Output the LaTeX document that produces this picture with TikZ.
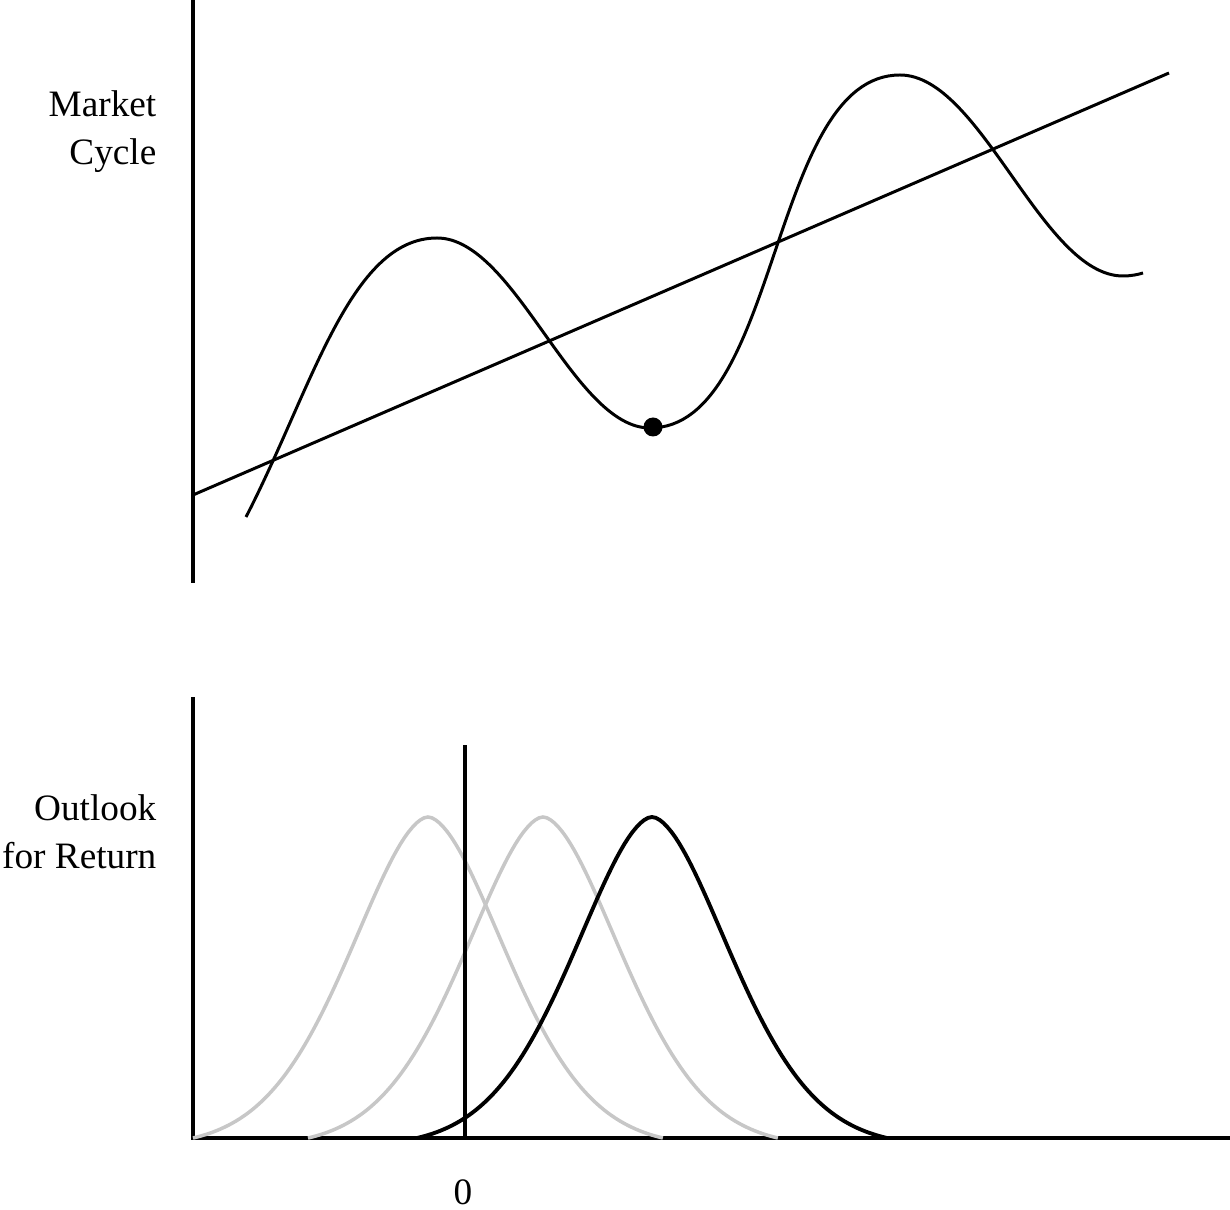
\documentclass[tikz,border=0pt]{standalone}
\usepackage{fontspec}
\setmainfont{Liberation Serif}
\usepackage{tikz}
\usetikzlibrary{calc}

\tikzset{
	axisline/.style={line width=1.1pt},
	cycleline/.style={line width=0.85pt},
	bellgray/.style={line width=1pt, color=black!22},
	bellblack/.style={line width=1.1pt, color=black},
	sidelabel/.style={anchor=east, align=right, font=\fontsize{10.6}{13.7}\selectfont, inner sep=0pt}
}

\begin{document}
\begin{tikzpicture}[x=1cm,y=1cm]
			\useasboundingbox (0,0) rectangle (12.30,12.09);
			
			% upper panel
			\coordinate (topaxisT) at (1.93,12.09);
			\coordinate (topaxisB) at (1.93,6.26);
			\coordinate (trendL) at (1.93,7.14);
			\coordinate (trendR) at (11.69,11.36);
			\coordinate (waveS) at (2.46,6.92);
			\coordinate (peakA) at (4.37,9.71);
			\coordinate (troughA) at (6.50,7.81);
			\coordinate (peakB) at (9.00,11.34);
			\coordinate (troughB) at (11.23,9.33);
			\coordinate (waveE) at (11.43,9.36);
			\draw[axisline] (topaxisB) -- (topaxisT);
			\draw[cycleline] (trendL) -- (trendR);
			\draw[cycleline] (waveS) .. controls (3.12,8.20) and (3.50,9.71) .. (peakA)
				.. controls (5.15,9.71) and (5.73,7.81) .. (troughA)
				.. controls (7.80,7.81) and (7.70,11.34) .. (peakB)
				.. controls (9.81,11.34) and (10.42,9.33) .. (troughB)
				.. controls (11.31,9.33) and (11.38,9.345) .. (waveE);
			\node[circle, fill=black, inner sep=0pt, minimum size=0.19cm] (trough) at (6.53,7.82) {};
			\node[sidelabel] (cyclelabel) at (1.57,10.77) {Market\\Cycle};
			
			% lower panel
			\coordinate (origin) at (1.93,0.71);
			\coordinate (botaxisT) at (1.93,5.12);
			\coordinate (botaxisR) at (12.30,0.71);
			\coordinate (zeroB) at (4.65,0.71);
			\coordinate (zeroT) at (4.65,4.64);
			\draw[axisline] (botaxisT) -- (origin) -- (botaxisR);
			
			\foreach \mu in {4.28,5.43}{
				\draw[bellgray] plot[domain=-2.35:2.35, samples=121] ({\mu+\x},{0.71+3.21*(exp(-pow(abs(\x),1.75)/1.227)-0.0264)/0.9736});
			}
			\draw[axisline] (zeroB) -- (zeroT);
			\draw[bellblack] plot[domain=-2.35:2.35, samples=121] ({6.52+\x},{0.71+3.21*(exp(-pow(abs(\x),1.75)/1.227)-0.0264)/0.9736});
			
			\node[sidelabel] (returnlabel) at (1.57,3.77) {Outlook\\for Return};
			\node[font=\fontsize{10.6}{13.7}\selectfont, inner sep=0pt] (zerolabel) at (4.63,0.17) {0};
			
\end{tikzpicture}
\end{document}
